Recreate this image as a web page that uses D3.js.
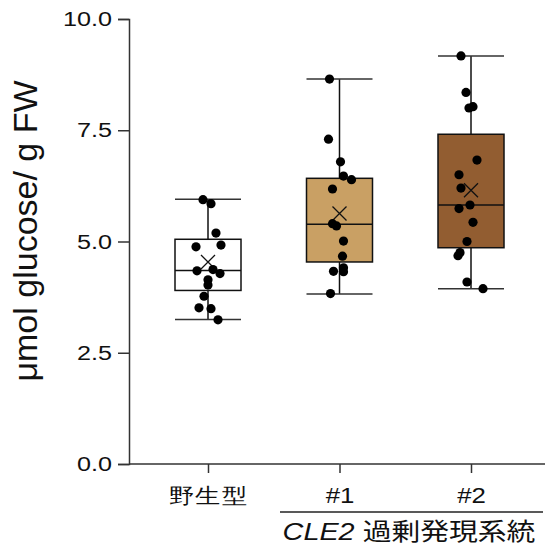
<!DOCTYPE html>
<html>
<head>
<meta charset="utf-8">
<script src="https://cdn.jsdelivr.net/npm/d3@7"></script>
<style>
  body { margin: 0; background: #fff; }
  svg { font-family: "Liberation Sans", Arial, "Noto Sans CJK JP", sans-serif; }
</style>
</head>
<body>
<div id="chart"></div>
<script>
// categories and box stats
const groups = ['野生型', '#1', '#2'];
const whiskerLow = [3.25, 3.82, 3.94];
const q1 = [3.90, 4.54, 4.86];
const median = [4.35, 5.39, 5.82];
const q3 = [5.05, 6.42, 7.41];
const whiskerHigh = [5.95, 8.65, 9.17];
const means = [4.54, 5.63, 6.15];

// individual samples
const wtValues = [5.94, 5.85, 5.19, 4.88, 4.92, 4.34, 4.37, 4.28, 4.14, 4.02, 3.77, 3.51, 3.49, 3.24];
const line1Values = [8.65, 7.30, 6.79, 6.47, 6.39, 6.18, 5.40, 5.35, 5.01, 4.67, 4.41, 4.33, 4.32, 3.83];
const line2Values = [9.17, 8.35, 8.00, 8.03, 6.83, 6.50, 6.20, 5.82, 5.74, 5.43, 5.00, 4.75, 4.68, 4.09, 3.94];
const yTicks = [0, 2.5, 5, 7.5, 10];

// horizontal jitter of the dots (px), layout only
const jitter = [
  [-5, 3, 8, -12, 13, -11, 5, 12, 0, 0, -4, -9, 3, 10],
  [-10, -11, 1, 4, 12, -7, -7, -3, 4, 3, 4, -6, 4, -9],
  [-10, -5, -2, 2, 6, -12, -10, -1, -12, 2, -4, -11, -13, -4, 12]
];
const fills = ['#ffffff', '#c9a064', '#925d31'];

const W = 547, H = 549;
const svg = d3.select('#chart').append('svg').attr('width', W).attr('height', H);

const x = d3.scalePoint().domain(groups).range([208, 471]);
const y = d3.scaleLinear().domain([0, 10]).range([464, 19]);
const boxW = 66;
const stretch = 1.2; // text in the figure is a bit wide

// y axis
const yAxis = svg.append('g').attr('transform', 'translate(129,0)')
  .call(d3.axisLeft(y).tickValues(yTicks).tickFormat(d3.format('.1f')).tickSize(11).tickPadding(5));
yAxis.selectAll('text').attr('font-size', 21).attr('fill', '#111')
  .attr('x', -17 / stretch).attr('transform', `scale(${stretch},1)`);

// x axis
svg.append('line').attr('x1', 129).attr('x2', 545).attr('y1', y(0)).attr('y2', y(0))
  .attr('stroke', '#333').attr('stroke-width', 1.5);
const xAxis = svg.append('g').attr('transform', `translate(0,${y(0)})`)
  .call(d3.axisBottom(x).tickSize(9).tickPadding(15));
xAxis.select('.domain').remove();
xAxis.selectAll('text').attr('font-size', 21.5).attr('fill', '#111')
  .attr('transform', `scale(${stretch},1)`);
[yAxis, xAxis].forEach(a => {
  a.selectAll('line').attr('stroke', '#333').attr('stroke-width', 1.5);
  a.selectAll('.domain').attr('stroke', '#333').attr('stroke-width', 1.5);
});

// y label
svg.append('text')
  .attr('transform', 'translate(37,231) rotate(-90)')
  .attr('text-anchor', 'middle')
  .attr('font-size', 34)
  .attr('fill', '#111')
  .text('μmol glucose/ g FW');

// group bracket for the CLE2 lines
svg.append('line').attr('x1', 280).attr('x2', 543).attr('y1', 512).attr('y2', 512)
  .attr('stroke', '#222').attr('stroke-width', 1.5);
const grp = svg.append('text')
  .attr('transform', `translate(409,540) scale(${stretch},1)`)
  .attr('text-anchor', 'middle').attr('font-size', 24).attr('fill', '#111');
grp.append('tspan').attr('font-style', 'italic').text('CLE2');
grp.append('tspan').text(' 過剰発現系統');

// boxes
const boxes = svg.append('g').selectAll('g').data(groups).join('g');
boxes.append('line')
  .attr('x1', d => x(d)).attr('x2', d => x(d))
  .attr('y1', (d, i) => y(whiskerLow[i])).attr('y2', (d, i) => y(whiskerHigh[i]))
  .attr('stroke', '#111').attr('stroke-width', 1.5);
boxes.append('line')
  .attr('x1', d => x(d) - boxW / 2).attr('x2', d => x(d) + boxW / 2)
  .attr('y1', (d, i) => y(whiskerLow[i])).attr('y2', (d, i) => y(whiskerLow[i]))
  .attr('stroke', '#333').attr('stroke-width', 1.5);
boxes.append('line')
  .attr('x1', d => x(d) - boxW / 2).attr('x2', d => x(d) + boxW / 2)
  .attr('y1', (d, i) => y(whiskerHigh[i])).attr('y2', (d, i) => y(whiskerHigh[i]))
  .attr('stroke', '#333').attr('stroke-width', 1.5);
boxes.append('rect')
  .attr('x', d => x(d) - boxW / 2).attr('width', boxW)
  .attr('y', (d, i) => y(q3[i])).attr('height', (d, i) => y(q1[i]) - y(q3[i]))
  .attr('fill', (d, i) => fills[i]).attr('stroke', '#111').attr('stroke-width', 1.5);
boxes.append('line')
  .attr('x1', d => x(d) - boxW / 2).attr('x2', d => x(d) + boxW / 2)
  .attr('y1', (d, i) => y(median[i])).attr('y2', (d, i) => y(median[i]))
  .attr('stroke', '#111').attr('stroke-width', 1.5);

// points
const allValues = [wtValues, line1Values, line2Values];
groups.forEach((g, gi) => {
  svg.append('g').selectAll('circle').data(allValues[gi]).join('circle')
    .attr('cx', (d, i) => x(g) + jitter[gi][i])
    .attr('cy', d => y(d))
    .attr('r', 4.6)
    .attr('fill', '#000');
});

// mean markers
const m = 7;
boxes.append('path')
  .attr('d', (d, i) => {
    const cx = x(d), cy = y(means[i]);
    return `M${cx - m},${cy - m}L${cx + m},${cy + m}M${cx - m},${cy + m}L${cx + m},${cy - m}`;
  })
  .attr('stroke', '#111').attr('stroke-width', 1.3).attr('fill', 'none');
</script>
</body>
</html>
